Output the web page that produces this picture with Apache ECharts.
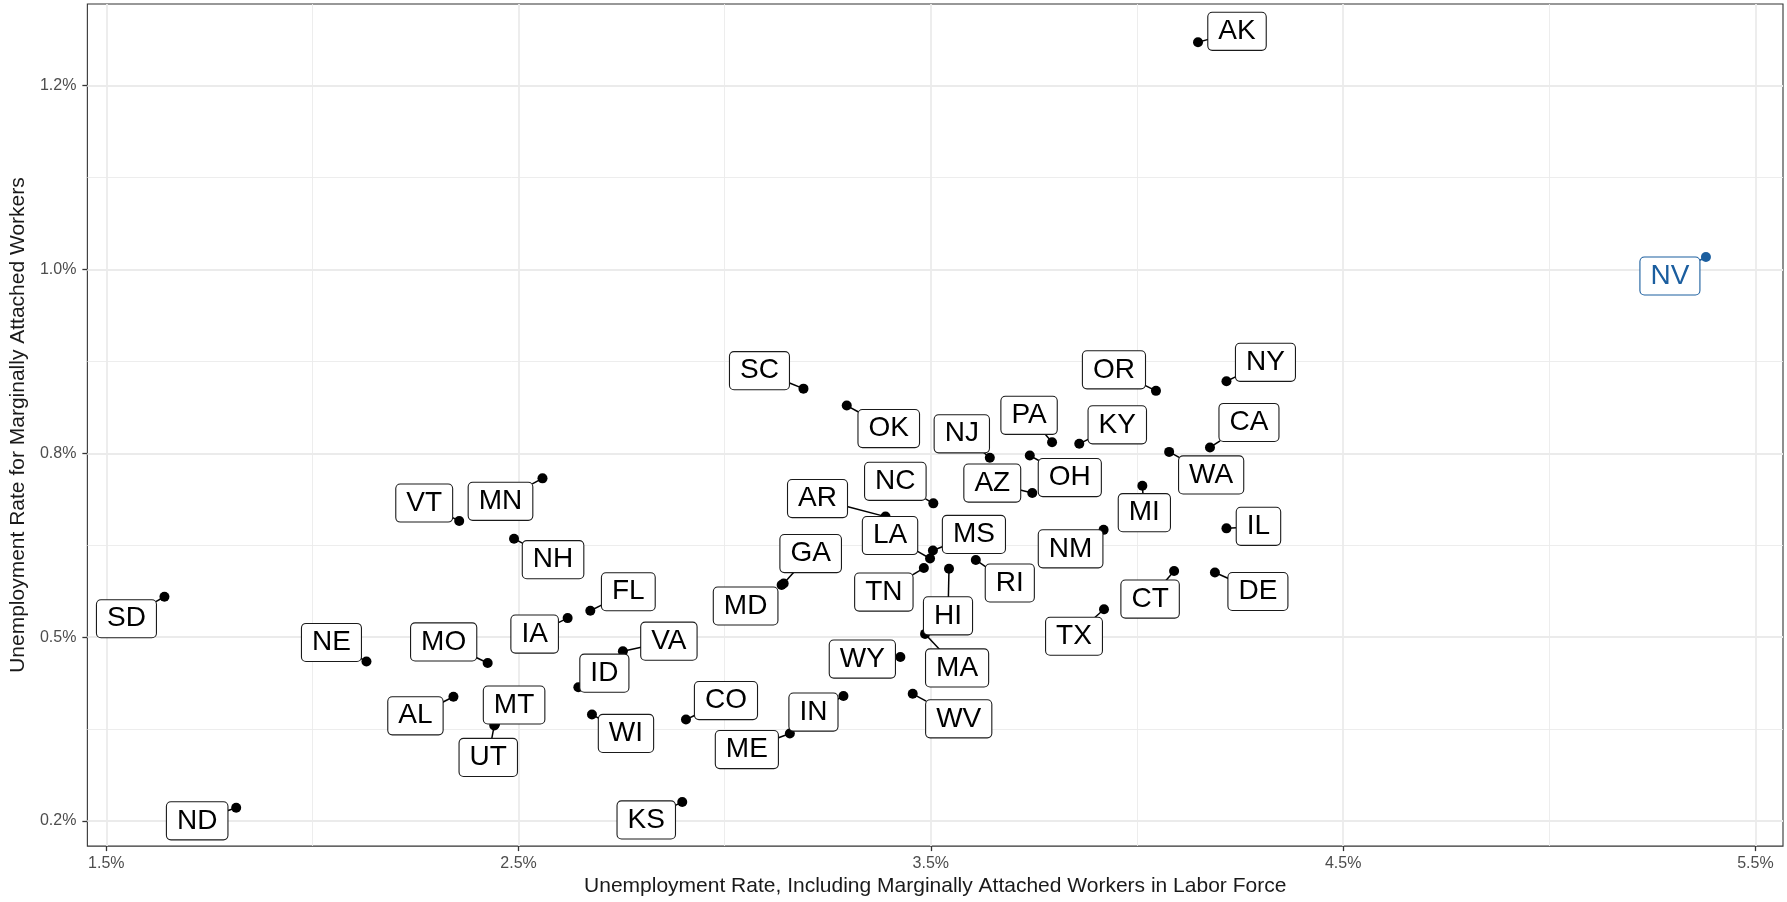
<!DOCTYPE html>
<html>
<head>
<meta charset="utf-8">
<script src="https://cdn.jsdelivr.net/npm/echarts@6/dist/echarts.min.js"></script>
<style>
html,body{margin:0;padding:0;background:#ffffff;}
#chart{width:1787px;height:902px;}
</style>
</head>
<body>
<div id="chart"></div>
<script>
// ---- data ----
const states = ['AK','NV','NY','OR','SC','OK','PA','KY','CA','WA',
                'NJ','OH','AZ','MN','MI','NC','AR','VT','IL','NM',
                'NH','MS','LA','RI','TN','HI','CT','DE','GA','MD',
                'SD','TX','FL','IA','MA','VA','WY','NE','MO','ID',
                'WV','AL','IN','WI','CO','MT','UT','ME','KS','ND'];
// Unemployment rate incl. marginally attached workers in labor force (%)
const xRate = [4.148,5.380,4.217,4.046,3.191,3.296,3.794,3.860,4.177,4.078,
               3.643,3.740,3.746,2.558,4.013,3.506,3.390,2.356,4.217,3.919,
               2.489,3.505,3.498,3.609,3.483,3.544,4.090,4.189,3.143,3.138,
               1.641,3.920,2.674,2.619,3.486,2.753,3.426,2.131,2.425,2.645,
               3.456,2.342,3.288,2.678,2.906,2.443,2.441,3.158,2.897,1.815];
// Unemployment rate for marginally attached workers (%)
const yRate = [1.309,1.017,0.848,0.835,0.838,0.815,0.765,0.763,0.758,0.752,
               0.744,0.747,0.696,0.716,0.706,0.682,0.664,0.658,0.648,0.646,
               0.634,0.618,0.607,0.605,0.594,0.593,0.590,0.588,0.573,0.571,
               0.555,0.538,0.536,0.526,0.5045,0.481,0.473,0.467,0.465,0.432,
               0.423,0.419,0.420,0.395,0.388,0.382,0.380,0.369,0.276,0.268];
const highlighted = ['NV'];

const xTickValues = [1.5, 2.5, 3.5, 4.5, 5.5];
const xTickLabels = ['1.5%', '2.5%', '3.5%', '4.5%', '5.5%'];
const xMinorValues = [2, 3, 4, 5];
const yTickValues = [0.25, 0.5, 0.75, 1.0, 1.25];
const yTickLabels = ['0.2%', '0.5%', '0.8%', '1.0%', '1.2%'];
const yMinorValues = [0.375, 0.625, 0.875, 1.125];

const xTitle = 'Unemployment Rate, Including Marginally Attached Workers in Labor Force';
const yTitle = 'Unemployment Rate for Marginally Attached Workers';

// ---- label placement (pixel offsets of label box centre from its point; layout only) ----
const labelOffsets = {
  AK:[39,-11], NV:[-36,19], NY:[39,-19], OR:[-42,-21], SC:[-44,-18], OK:[42,23],
  PA:[-23,-27], KY:[38,-19], NJ:[-28,-24], CA:[39,-25], WA:[42,23], OH:[40,22],
  AZ:[-40,-10], MN:[-42,23], VT:[-35,-18], MI:[2,27], NC:[-38,-22], AR:[-68,-18],
  LA:[-40,-23], MS:[41,-16], TN:[-40,24], HI:[-1,47], RI:[34,23], NM:[-33,19],
  NH:[39,21], IL:[32,-2], DE:[43,19], CT:[-24,28], TX:[-30,27], GA:[27,-30], MD:[-36,21],
  SD:[-38,22], FL:[38,-19], IA:[-33,16], NE:[-35,-19], MO:[-44,-21], VA:[46,-10],
  MA:[32,34], WY:[-38,2], ID:[26,-14], AL:[-38,19], MT:[19,-19], UT:[-6,32],
  WI:[34,19], CO:[40,-19], IN:[-30,16], ME:[-43,16], WV:[46,25], KS:[-36,18],
  ND:[-39,13]
};
const noSegment = ['MD'];

// ---- styles ----
const FONT = '"Liberation Sans", Arial, Helvetica, sans-serif';
const LABEL_SIZE = 28;
const LABEL_PAD = [5, 10, 5, 10];
const LABEL_LINE_H = 27;
const BLUE = '#1b5e9f';

// ---- scales (ggplot-like 5% expansion) ----
function expand(arr) {
  const lo = Math.min(...arr), hi = Math.max(...arr);
  const pad = (hi - lo) * 0.05;
  return [lo - pad, hi + pad];
}
const [xMin, xMax] = expand(xRate);
const [yMin, yMax] = expand(yRate);

function lookup(values, labels) {
  return v => {
    for (let i = 0; i < values.length; i++) {
      if (Math.abs(values[i] - v) < 1e-9) return labels[i];
    }
    return '';
  };
}

const measureCtx = document.createElement('canvas').getContext('2d');
measureCtx.font = LABEL_SIZE + 'px ' + FONT;
function boxSize(text) {
  return [measureCtx.measureText(text).width + LABEL_PAD[1] + LABEL_PAD[3],
          LABEL_LINE_H + LABEL_PAD[0] + LABEL_PAD[2]];
}

const gridData = [];
xTickValues.forEach(v => gridData.push({coords: [[v, yMin], [v, yMax]], lineStyle: {width: 1.8}}));
xMinorValues.forEach(v => gridData.push({coords: [[v, yMin], [v, yMax]], lineStyle: {width: 0.9}}));
yTickValues.forEach(v => gridData.push({coords: [[xMin, v], [xMax, v]], lineStyle: {width: 1.8}}));
yMinorValues.forEach(v => gridData.push({coords: [[xMin, v], [xMax, v]], lineStyle: {width: 0.9}}));

const pointData = states.map((s, i) => {
  const item = {name: s, value: [xRate[i], yRate[i]]};
  if (highlighted.indexOf(s) >= 0) {
    item.itemStyle = {color: BLUE};
    item.label = {color: BLUE, borderColor: BLUE};
  }
  return item;
});

const segmentData = states.map((s, i) => [xRate[i], yRate[i]]);

// segment from point towards the label centre, stopping at the label box edge (ggrepel style)
function renderSegment(params, api) {
  const i = params.dataIndex;
  const s = states[i];
  if (noSegment.indexOf(s) >= 0) return null;
  const p = api.coord([api.value(0), api.value(1)]);
  const o = labelOffsets[s] || [0, 0];
  const sz = boxSize(s);
  const cx = p[0] + o[0], cy = p[1] + o[1];
  const dx = p[0] - cx, dy = p[1] - cy;
  const sx = Math.abs(dx) > 1e-6 ? (sz[0] / 2) / Math.abs(dx) : Infinity;
  const sy = Math.abs(dy) > 1e-6 ? (sz[1] / 2) / Math.abs(dy) : Infinity;
  const t = Math.min(sx, sy);
  if (t >= 1) return null;
  const qx = cx + t * dx, qy = cy + t * dy;
  if (Math.hypot(qx - p[0], qy - p[1]) < 2) return null;
  return {
    type: 'line',
    shape: {x1: p[0], y1: p[1], x2: qx, y2: qy},
    style: {stroke: highlighted.indexOf(s) >= 0 ? BLUE : '#000000', lineWidth: 1.5}
  };
}

const chart = echarts.init(document.getElementById('chart'), null, {renderer: 'canvas'});
chart.setOption({
  animation: false,
  backgroundColor: '#ffffff',
  grid: {
    left: 86, right: 4, top: 4, bottom: 52,
    show: true, borderColor: '#333333', borderWidth: 1.1, backgroundColor: '#ffffff'
  },
  xAxis: {
    type: 'value', min: xMin, max: xMax,
    name: xTitle, nameLocation: 'middle', nameGap: 26,
    nameTextStyle: {fontFamily: FONT, fontSize: 21, color: '#1a1a1a'},
    axisLine: {show: false},
    axisTick: {show: true, customValues: xTickValues, length: 5, lineStyle: {color: '#333333', width: 1.3}},
    axisLabel: {customValues: xTickValues, formatter: lookup(xTickValues, xTickLabels),
                fontFamily: FONT, fontSize: 16, color: '#4d4d4d', margin: 9},
    splitLine: {show: false}
  },
  yAxis: {
    type: 'value', min: yMin, max: yMax,
    name: yTitle, nameLocation: 'middle', nameGap: 50, nameRotate: 90,
    nameTextStyle: {fontFamily: FONT, fontSize: 21, color: '#1a1a1a'},
    axisLine: {show: false},
    axisTick: {show: true, customValues: yTickValues, length: 5, lineStyle: {color: '#333333', width: 1.3}},
    axisLabel: {customValues: yTickValues, formatter: lookup(yTickValues, yTickLabels),
                fontFamily: FONT, fontSize: 16, color: '#4d4d4d', margin: 11},
    splitLine: {show: false}
  },
  series: [
    {
      type: 'lines',
      coordinateSystem: 'cartesian2d',
      silent: true,
      z: 1,
      lineStyle: {color: '#ebebeb', opacity: 1, curveness: 0},
      data: gridData
    },
    {
      type: 'custom',
      silent: true,
      z: 2,
      renderItem: renderSegment,
      data: segmentData
    },
    {
      type: 'scatter',
      z: 3,
      symbol: 'circle',
      symbolSize: 10,
      itemStyle: {color: '#000000', opacity: 1},
      data: pointData,
      label: {
        show: true,
        position: 'inside',
        formatter: p => p.name,
        fontFamily: FONT,
        fontSize: LABEL_SIZE,
        lineHeight: LABEL_LINE_H,
        color: '#000000',
        backgroundColor: '#ffffff',
        borderColor: '#1a1a1a',
        borderWidth: 1.1,
        borderRadius: 4,
        padding: LABEL_PAD
      },
      labelLayout: function (params) {
        const s = states[params.dataIndex];
        const o = labelOffsets[s] || [0, 0];
        return {dx: o[0], dy: o[1]};
      },
      emphasis: {disabled: true}
    }
  ]
});
</script>
</body>
</html>
